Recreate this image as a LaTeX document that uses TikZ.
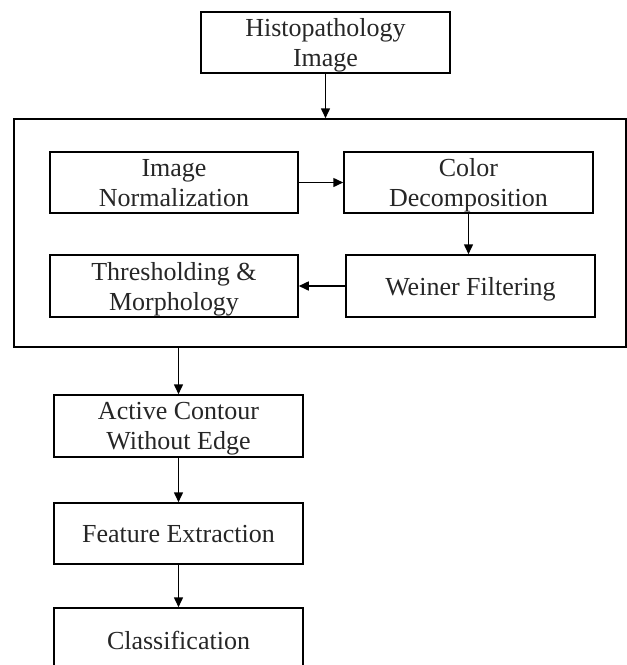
\documentclass[tikz,border=0pt]{standalone}
\usepackage{fontspec}
\setmainfont{Liberation Serif}
\usetikzlibrary{arrows.meta}
\begin{document}
\begin{tikzpicture}[x=1pt,y=-1pt,
  box/.style={draw=black, line width=1.5pt, align=center, inner sep=0pt,
    text depth=0pt, font=\fontsize{26}{30}\selectfont, text=black!85},
  arr/.style={draw=black, line width=1.5pt, -{Triangle[length=10pt,width=9pt]}}]
\useasboundingbox (0,0) rectangle (627,665);
\clip (0,0) rectangle (627,665);
\node[box, minimum width=249pt, minimum height=61pt] (top) at (325.5,42.5) {Histopathology\\Image};
\node[draw=black, line width=1.5pt, minimum width=612pt, minimum height=228pt, inner sep=0pt] (big) at (320,233) {};
\node[box, minimum width=248pt, minimum height=61pt] (norm) at (174,182.5) {Image\\Normalization};
\node[box, minimum width=249pt, minimum height=61pt] (color) at (468.5,182.5) {Color\\Decomposition};
\node[box, minimum width=248pt, minimum height=62pt] (thresh) at (174,286) {Thresholding \&\\Morphology};
\node[box, minimum width=249pt, minimum height=62pt] (weiner) at (470.5,286) {Weiner Filtering};
\node[box, minimum width=249pt, minimum height=62pt] (active) at (178.5,426) {Active Contour\\Without Edge};
\node[box, minimum width=249pt, minimum height=61pt] (feat) at (178.5,533.5) {Feature Extraction};
\node[box, minimum width=249pt, minimum height=64pt] (cls) at (178.5,640) {Classification};
\draw[arr] (top.south) -- (top.south |- big.north);
\draw[arr] (norm.east) -- (color.west);
\draw[arr] (color.south) -- (color.south |- weiner.north);
\draw[arr] (weiner.west) -- (thresh.east);
\draw[arr] (active.north |- big.south) -- (active.north);
\draw[arr] (active.south) -- (feat.north);
\draw[arr] (feat.south) -- (cls.north);
\end{tikzpicture}
\end{document}
